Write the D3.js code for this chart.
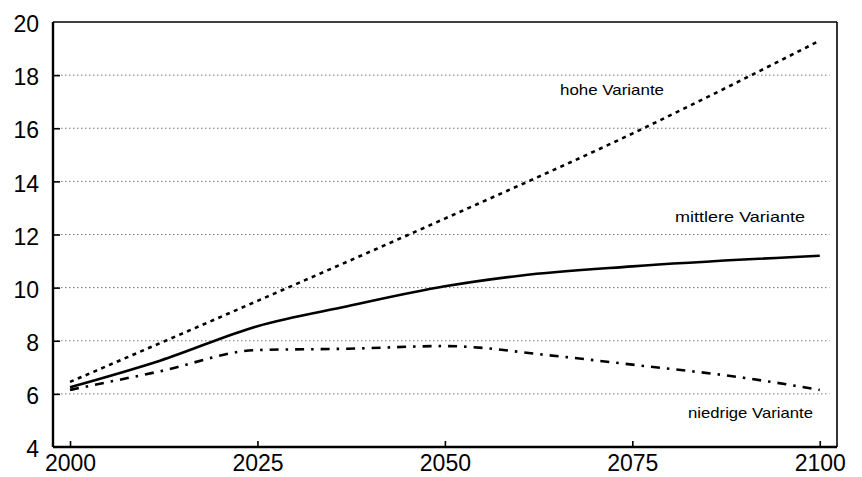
<!DOCTYPE html>
<html>
<head>
<meta charset="utf-8">
<script src="https://cdn.jsdelivr.net/npm/d3@7"></script>
<style>
  body { margin: 0; background: #fff; }
  svg { display: block; font-family: "Liberation Sans", Arial, sans-serif; }
</style>
</head>
<body>
<div id="chart"></div>
<script>
// values
const years = [2000, 2025, 2050, 2075, 2100];
const yTicks = [4, 6, 8, 10, 12, 14, 16, 18, 20];

const hoheYears = [2000, 2025, 2050, 2075, 2100];
const hoheValues = [6.45, 9.5, 12.6, 15.8, 19.3];

const mittlereYears = [2000, 2012, 2025, 2037, 2050, 2060, 2075, 2100];
const mittlereValues = [6.25, 7.25, 8.55, 9.3, 10.05, 10.45, 10.8, 11.2];

const niedrigeYears = [2000, 2012, 2025, 2037, 2050, 2064, 2075, 2090, 2100];
const niedrigeValues = [6.15, 6.85, 7.65, 7.7, 7.8, 7.45, 7.1, 6.6, 6.15];

const labels = ["hohe Variante", "mittlere Variante", "niedrige Variante"];

const width = 862, height = 477;

const svg = d3.select("#chart").append("svg")
    .attr("width", width)
    .attr("height", height);

// frame goes a bit past 2000 / 2100
let x = d3.scaleLinear().domain([1997.73, 2102.3]).range([53, 837]);
let y = d3.scaleLinear().domain([4, 20]).range([447, 22]);

// dotted grid lines
svg.selectAll(".grid")
    .data(yTicks.filter(d => d > 4 && d < 20))
    .enter()
    .append("line")
    .attr("class", "grid")
    .attr("x1", x.range()[0])
    .attr("x2", x(2101.3))
    .attr("y1", d => y(d))
    .attr("y2", d => y(d))
    .attr("stroke", "#666")
    .attr("stroke-width", 0.9)
    .attr("stroke-dasharray", "1.5,2.5");

// top and right border (thinner)
svg.append("line")
    .attr("x1", x.range()[0]).attr("x2", x.range()[1])
    .attr("y1", y(20)).attr("y2", y(20))
    .attr("stroke", "#000").attr("stroke-width", 1.3);
svg.append("line")
    .attr("x1", x.range()[1]).attr("x2", x.range()[1])
    .attr("y1", y(20)).attr("y2", y(4))
    .attr("stroke", "#000").attr("stroke-width", 1.6);

// axes with inward ticks
const yAxis = d3.axisLeft(y).tickValues(yTicks).tickSize(-7).tickPadding(14);
const xAxis = d3.axisBottom(x).tickValues(years).tickFormat(d3.format("d")).tickSize(-6).tickPadding(8);

const gy = svg.append("g").attr("transform", `translate(${x.range()[0]},0)`).call(yAxis);
const gx = svg.append("g").attr("transform", `translate(0,${y(4)})`).call(xAxis);

[gy, gx].forEach(g => {
    g.select(".domain").attr("stroke", "#000").attr("stroke-width", 2.4);
    g.selectAll(".tick line").attr("stroke", "#000").attr("stroke-width", 1.6);
    g.selectAll(".tick text")
        .attr("fill", "#000")
        .style("font-size", "23px")
        .style("font-family", "\"Liberation Sans\", Arial, sans-serif");
});
gy.select(".domain").attr("d", `M0,${y(20)}V${y(4)}`);
gx.select(".domain").attr("d", `M${x.range()[0]},0H${x.range()[1]}`);
gy.selectAll(".tick text").attr("dy", "0.42em");
gx.selectAll(".tick text").attr("dy", "0.7em");
gy.selectAll(".tick").filter(d => d === 4 || d === 20).select("line").remove();

const line = d3.line()
    .x(d => x(d[0]))
    .y(d => y(d[1]))
    .curve(d3.curveMonotoneX);

function drawSeries(xs, vs, dash) {
    svg.append("path")
        .datum(xs.map((yr, i) => [yr, vs[i]]))
        .attr("fill", "none")
        .attr("stroke", "#000")
        .attr("stroke-width", 2.6)
        .attr("stroke-dasharray", dash)
        .attr("d", line);
}

drawSeries(hoheYears, hoheValues, "4,4.5");
drawSeries(mittlereYears, mittlereValues, null);
drawSeries(niedrigeYears, niedrigeValues, "9,7,2.5,7");

// series labels
const labelPos = [
    { x: 560, y: 95, w: 104 },
    { x: 675, y: 222, w: 130 },
    { x: 688, y: 418, w: 125 }
];
svg.selectAll(".lbl")
    .data(labels)
    .enter()
    .append("text")
    .attr("class", "lbl")
    .attr("x", (d, i) => labelPos[i].x)
    .attr("y", (d, i) => labelPos[i].y)
    .attr("textLength", (d, i) => labelPos[i].w)
    .attr("lengthAdjust", "spacingAndGlyphs")
    .style("font-size", "15px")
    .attr("fill", "#000")
    .text(d => d);
</script>
</body>
</html>
